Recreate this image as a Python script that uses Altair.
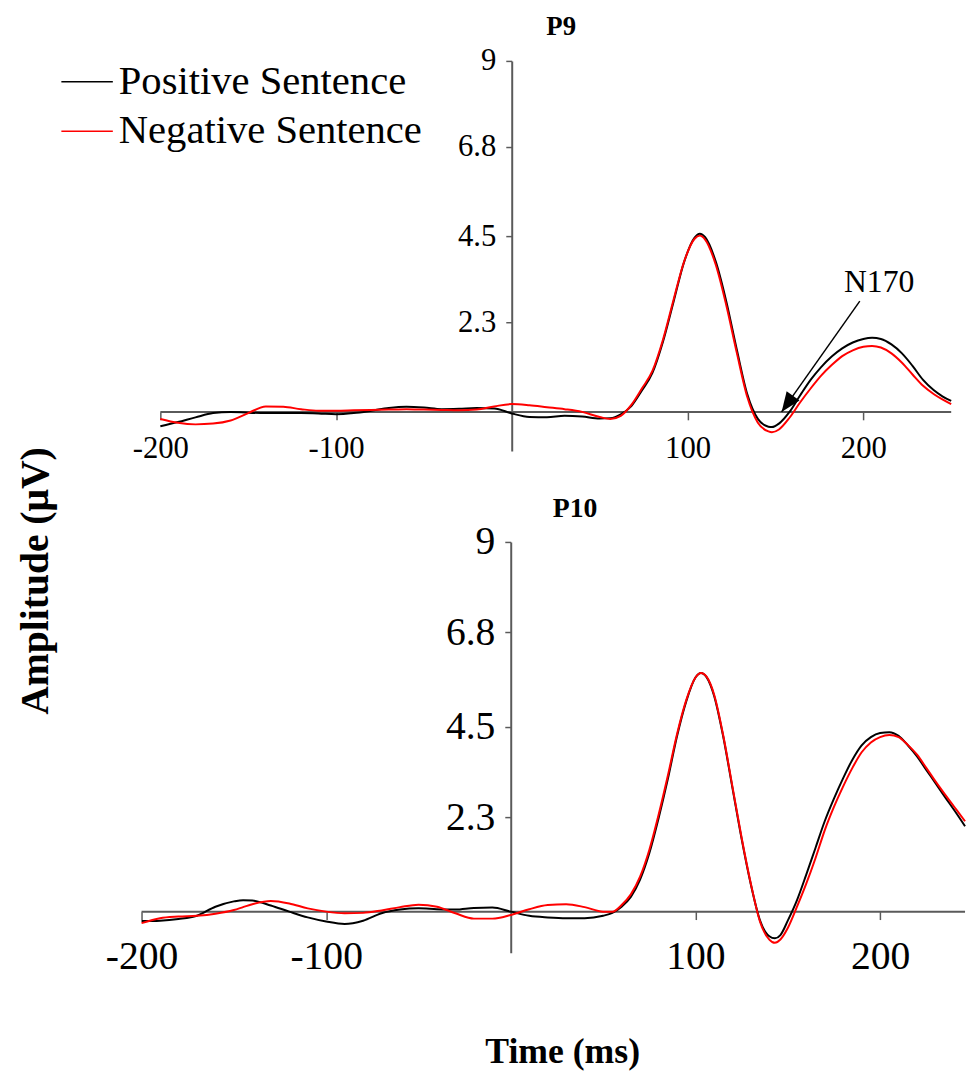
import altair as alt
import pandas as pd

FONT = "Liberation Serif"
AXIS_COLOR = "#5a5a5a"

# ---------------- data ----------------
series_names = ["Positive Sentence", "Negative Sentence"]
series_colors = ["#000000", "#ff0000"]

x_ticks = [-200, -100, 100, 200]
y_ticks = [2.3, 4.5, 6.8, 9]

p9_time = [-200, -190, -180, -170, -160, -150, -140, -130, -120, -110, -100, -90, -80, -70, -60,
           -50, -40, -30, -20, -10, 0, 10, 20, 30, 40, 50, 56, 62, 68, 74, 80, 86, 92, 98, 104,
           107, 110, 116, 122, 128, 134, 140, 146, 148, 152, 158, 164, 170, 176, 182, 188, 194,
           200, 205, 210, 216, 222, 228, 234, 240, 245, 250]
p9_pos = [-0.37, -0.26, -0.14, -0.03, 0.0, -0.02, -0.03, -0.03, -0.03, -0.04, -0.06, -0.03, 0.03,
          0.10, 0.13, 0.11, 0.07, 0.08, 0.10, 0.09, -0.04, -0.13, -0.14, -0.10, -0.12, -0.17,
          -0.16, -0.06, 0.15, 0.55, 1.00, 1.80, 2.82, 3.84, 4.47, 4.57, 4.48, 3.86, 2.84, 1.60,
          0.45, -0.18, -0.38, -0.39, -0.30, 0.0, 0.42, 0.82, 1.15, 1.42, 1.63, 1.78, 1.87, 1.90,
          1.87, 1.73, 1.50, 1.18, 0.82, 0.56, 0.40, 0.28]
p9_neg = [-0.18, -0.28, -0.32, -0.30, -0.22, -0.03, 0.14, 0.13, 0.07, 0.03, 0.03, 0.04, 0.05,
          0.06, 0.07, 0.06, 0.05, 0.04, 0.06, 0.14, 0.20, 0.17, 0.12, 0.07, 0.0, -0.13, -0.18,
          -0.10, 0.18, 0.60, 1.05, 1.85, 2.87, 3.85, 4.44, 4.52, 4.42, 3.78, 2.74, 1.52, 0.38,
          -0.28, -0.50, -0.52, -0.45, -0.15, 0.24, 0.60, 0.93, 1.20, 1.43, 1.58, 1.67, 1.69,
          1.65, 1.50, 1.26, 0.96, 0.67, 0.46, 0.32, 0.20]

p10_time = [-200, -190, -180, -170, -160, -150, -145, -140, -130, -120, -110, -100, -90, -80, -70,
            -60, -50, -40, -30, -20, -10, 0, 10, 20, 30, 40, 50, 55, 60, 65, 70, 75, 80, 85, 90,
            95, 100, 103, 106, 110, 115, 120, 125, 130, 135, 140, 143, 146, 150, 155, 160, 165,
            170, 175, 180, 185, 190, 195, 200, 205, 210, 215, 220, 225, 230, 235, 240, 246]
p10_pos = [-0.23, -0.22, -0.18, -0.10, 0.12, 0.25, 0.28, 0.27, 0.15, 0.0, -0.14, -0.24, -0.30,
           -0.22, -0.04, 0.05, 0.08, 0.06, 0.05, 0.09, 0.10, 0.0, -0.10, -0.14, -0.16, -0.16,
           -0.10, -0.03, 0.12, 0.36, 0.78, 1.42, 2.27, 3.22, 4.27, 5.12, 5.70, 5.81, 5.71, 5.27,
           4.27, 3.02, 1.77, 0.66, -0.22, -0.60, -0.65, -0.57, -0.22, 0.28, 0.90, 1.55, 2.20,
           2.75, 3.25, 3.70, 4.05, 4.25, 4.35, 4.37, 4.28, 4.05, 3.78, 3.45, 3.13, 2.80, 2.48,
           2.08]
p10_neg = [-0.28, -0.16, -0.12, -0.10, -0.05, 0.04, 0.11, 0.18, 0.26, 0.20, 0.08, 0.0, -0.04,
           -0.03, 0.03, 0.11, 0.17, 0.12, -0.04, -0.17, -0.17, -0.08, 0.06, 0.16, 0.18, 0.11,
           0.0, 0.0, 0.16, 0.42, 0.85, 1.50, 2.35, 3.30, 4.32, 5.15, 5.70, 5.81, 5.72, 5.30,
           4.30, 3.05, 1.80, 0.68, -0.25, -0.68, -0.76, -0.68, -0.40, 0.12, 0.68, 1.30, 1.98,
           2.55, 3.05, 3.50, 3.88, 4.12, 4.25, 4.30, 4.25, 4.06, 3.82, 3.50, 3.17, 2.86, 2.56,
           2.20]

n170_label = ["N170"]
n170_text_time = [209]
n170_text_amp = [3.32]
n170_arrow_from = [198, 2.84]
n170_arrow_to = [153.5, 0.0]


def long_df(times, pos, neg):
    rows = []
    for t, v in zip(times, pos):
        rows.append({"time": t, "amp": v, "series": series_names[0]})
    for t, v in zip(times, neg):
        rows.append({"time": t, "amp": v, "series": series_names[1]})
    return pd.DataFrame(rows)


color_scale = alt.Scale(domain=series_names, range=series_colors)
legend = alt.Legend(
    orient="none", legendX=-82, legendY=-6, title=None, symbolType="stroke",
    symbolSize=2704, symbolStrokeWidth=1.5, labelFont=FONT, labelFontSize=41,
    labelColor="black", labelLimit=600, labelOffset=5, rowPadding=3, padding=0,
)


def panel(times, pos, neg, x_domain, y_offset, x_offset, font_size, x_label_pad,
          x_axis_title=None, y_axis_title=None):
    df = long_df(times, pos, neg)
    x_axis_kw = dict(
        values=x_ticks, labelExpr="'' + datum.value", domain=False, ticks=True, tickSize=8,
        tickColor=AXIS_COLOR, tickWidth=1.5, labelFont=FONT, labelFontSize=font_size,
        labelColor="black", labelPadding=x_label_pad, labelFlush=False, labelOverlap=False,
        offset=x_offset, grid=False,
    )
    if x_axis_title:
        x_axis_kw.update(title=x_axis_title, titleFont=FONT, titleFontSize=36,
                         titleFontWeight="bold", titleColor="black", titleX=425, titleY=141,
                         titleAlign="center", titleBaseline="middle")
    else:
        x_axis_kw.update(title=None)
    y_axis_kw = dict(
        values=y_ticks, labelExpr="'' + datum.value", domain=True, domainColor=AXIS_COLOR,
        domainWidth=2, ticks=True, tickSize=6, tickColor=AXIS_COLOR, tickWidth=1.5,
        labelFont=FONT, labelFontSize=font_size, labelColor="black", labelPadding=10,
        labelFlush=False, labelOverlap=False, offset=y_offset, grid=False,
    )
    if y_axis_title:
        y_axis_kw.update(title=y_axis_title, titleFont=FONT, titleFontSize=40,
                         titleFontWeight="bold", titleColor="black", titleX=-481, titleY=525,
                         titleAngle=270, titleAlign="center", titleBaseline="middle")
    else:
        y_axis_kw.update(title=None)

    xs = alt.Scale(domain=x_domain, nice=False, zero=False)
    ys = alt.Scale(domain=[-1, 9], nice=False, zero=False)

    base_line = alt.Chart(pd.DataFrame({"t0": [times[0]], "t1": [times[-1]], "z": [0]})).mark_rule(
        color=AXIS_COLOR, strokeWidth=2
    ).encode(
        x=alt.X("t0:Q", scale=xs, axis=alt.Axis(**x_axis_kw)),
        x2="t1:Q",
        y=alt.Y("z:Q", scale=ys, axis=alt.Axis(**y_axis_kw)),
    )
    layers = [base_line]
    for name in series_names:
        layers.append(
            alt.Chart(df).transform_filter(alt.datum.series == name).mark_line(
                strokeWidth=2, interpolate="monotone"
            ).encode(
                x=alt.X("time:Q", scale=xs),
                y=alt.Y("amp:Q", scale=ys),
                color=alt.Color("series:N", scale=color_scale, legend=legend),
            )
        )
    return layers


# ---------- top panel (P9) ----------
top_layers = panel(p9_time, p9_pos, p9_neg, [-210.7, 250], -374, -39.4, 31, 14,
                   y_axis_title="Amplitude (\u03bcV)")

ann_text = alt.Chart(pd.DataFrame({"t": n170_text_time, "a": n170_text_amp, "label": n170_label})).mark_text(
    font=FONT, fontSize=32, color="black", align="center", baseline="middle"
).encode(x="t:Q", y="a:Q", text="label:N")
ann_rule = alt.Chart(pd.DataFrame({
    "t": [n170_arrow_from[0]], "a": [n170_arrow_from[1]],
    "t2": [n170_arrow_to[0]], "a2": [n170_arrow_to[1]],
})).mark_rule(color="black", strokeWidth=1.5).encode(x="t:Q", y="a:Q", x2="t2:Q", y2="a2:Q")
ann_head = alt.Chart(pd.DataFrame({"t": [n170_arrow_to[0]], "a": [n170_arrow_to[1]]})).mark_point(
    shape="M0,0 L0.4,1 L-0.4,1 Z", filled=True, size=1600, angle=215.5, color="black", opacity=1
).encode(x="t:Q", y="a:Q")

top = alt.layer(*top_layers, ann_rule, ann_head, ann_text).properties(
    width=818, height=394,
    title=alt.TitleParams("P9", font=FONT, fontSize=27, fontWeight="bold", color="black",
                          anchor="middle", dx=15, offset=4),
)

# ---------- bottom panel (P10) ----------
bot_layers = panel(p10_time, p10_pos, p10_neg, [-200, 246], -373, -41.5, 40, 17,
                   x_axis_title="Time (ms)")
bottom = alt.layer(*bot_layers).properties(
    width=832, height=415,
    title=alt.TitleParams("P10", font=FONT, fontSize=28, fontWeight="bold", color="black",
                          anchor="middle", dx=22, offset=-1),
)

chart = alt.vconcat(top, bottom, spacing=92, bounds="flush").properties(
    padding={"left": 15, "top": 8, "right": 0, "bottom": 0},
    background="white",
).configure_view(stroke=None)

chart.save("out.html", embed_options={"renderer": "svg", "actions": False})
